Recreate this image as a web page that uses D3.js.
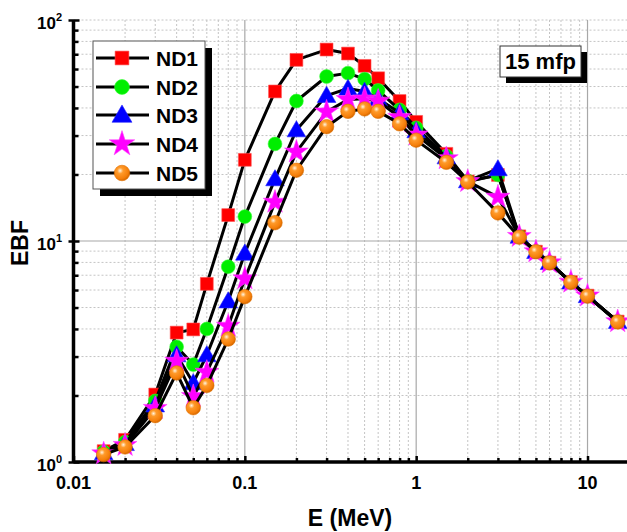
<!DOCTYPE html>
<html>
<head>
<meta charset="utf-8">
<script src="https://cdn.jsdelivr.net/npm/d3@7"></script>
<style>
  body { margin: 0; background: #fff; }
  text { font-family: "Liberation Sans", Arial, sans-serif; font-weight: bold; }
</style>
</head>
<body>
<script>
// energies (MeV)
var energy = [0.015, 0.02, 0.03, 0.04, 0.05, 0.06, 0.08, 0.1, 0.15, 0.2, 0.3, 0.4, 0.5, 0.6, 0.8, 1, 1.5, 2, 3, 4, 5, 6, 8, 10, 15];

var nd1 = [1.12, 1.26, 2.02, 3.85, 3.98, 6.4, 13.1, 23.3, 47.5, 66, 73.5, 70.5, 62, 54.5, 43, 34.6, 24.8, 18.6, 19.9, 10.5, 8.95, 7.98, 6.52, 5.66, 4.32];
var nd2 = [1.11, 1.23, 1.89, 3.32, 2.76, 4.0, 7.65, 12.9, 27.5, 43, 55.5, 57.5, 54, 48, 39.2, 32.5, 24.2, 18.7, 19.9, 10.5, 8.95, 7.98, 6.52, 5.65, 4.32];
var nd3 = [1.1, 1.21, 1.81, 3.05, 2.28, 3.05, 5.35, 8.8, 19.1, 31.8, 45.5, 49, 47.5, 44, 38, 31.5, 24, 18.7, 21.2, 10.5, 8.95, 7.98, 6.52, 5.65, 4.32];
var nd4 = [1.09, 1.19, 1.75, 2.86, 1.98, 2.55, 4.12, 6.75, 15, 25.3, 38.4, 43.7, 44, 43, 36.3, 30.2, 23.6, 18.6, 15.8, 10.5, 8.95, 7.98, 6.52, 5.65, 4.32];
var nd5 = [1.08, 1.17, 1.62, 2.53, 1.76, 2.22, 3.6, 5.6, 12.1, 20.9, 32.9, 38.6, 39.6, 38.6, 33.9, 28.6, 22.7, 18.5, 13.4, 10.4, 8.93, 7.96, 6.5, 5.63, 4.3];

var seriesNames = ["ND1", "ND2", "ND3", "ND4", "ND5"];
var seriesValues = [nd1, nd2, nd3, nd4, nd5];

var xTickValues = [0.01, 0.1, 1, 10];
var xTickLabels = ["0.01", "0.1", "1", "10"];
var yTickValues = [1, 10, 100];
var yTickExps = ["0", "1", "2"];

var width = 627, height = 532;

var svg = d3.select("body").append("svg")
  .attr("width", width)
  .attr("height", height);

var defs = svg.append("defs");
var grad = defs.append("radialGradient")
  .attr("id", "orangeBall")
  .attr("cx", "38%").attr("cy", "35%").attr("r", "65%");
grad.append("stop").attr("offset", "0%").attr("stop-color", "#fff4e0");
grad.append("stop").attr("offset", "30%").attr("stop-color", "#ff9a2a");
grad.append("stop").attr("offset", "80%").attr("stop-color", "#f57f0a");
grad.append("stop").attr("offset", "100%").attr("stop-color", "#d86a00");

var x = d3.scaleLog().domain([0.01, 17]).range([73.5, 627]);
var y = d3.scaleLog().domain([1, 100]).range([462, 20]);

// grid
var minorX = [];
[0.01, 0.1, 1, 10].forEach(function(d) {
  for (var k = 2; k <= 9; k++) { if (d * k <= 17) minorX.push(d * k); }
});
var minorY = [];
[1, 10].forEach(function(d) {
  for (var k = 2; k <= 9; k++) minorY.push(d * k);
});

var grid = svg.append("g");
grid.selectAll(".mx").data(minorX).enter().append("line")
  .attr("x1", function(d) { return x(d); }).attr("x2", function(d) { return x(d); })
  .attr("y1", y(100)).attr("y2", y(1))
  .attr("stroke", "#c4c4c4").attr("stroke-dasharray", "2,2").attr("stroke-width", 1);
grid.selectAll(".my").data(minorY).enter().append("line")
  .attr("x1", x(0.01)).attr("x2", width)
  .attr("y1", function(d) { return y(d); }).attr("y2", function(d) { return y(d); })
  .attr("stroke", "#c4c4c4").attr("stroke-dasharray", "2,2").attr("stroke-width", 1);
grid.append("line")
  .attr("x1", x(0.01)).attr("x2", width).attr("y1", y(100)).attr("y2", y(100))
  .attr("stroke", "#c4c4c4").attr("stroke-dasharray", "2,2");
grid.selectAll(".Mx").data([0.1, 1, 10]).enter().append("line")
  .attr("x1", function(d) { return x(d); }).attr("x2", function(d) { return x(d); })
  .attr("y1", y(100)).attr("y2", y(1))
  .attr("stroke", "#a8a8a8").attr("stroke-width", 1.2);
grid.append("line")
  .attr("x1", x(0.01)).attr("x2", width).attr("y1", y(10)).attr("y2", y(10))
  .attr("stroke", "#a8a8a8").attr("stroke-width", 1.2);

// axes
var xAxis = d3.axisBottom(x)
  .tickValues(minorX.concat(xTickValues))
  .tickSize(-4).tickFormat("");
var gx = svg.append("g").attr("transform", "translate(0," + y(1) + ")").call(xAxis);
gx.select(".domain").attr("stroke-width", 3.5).attr("d", "M" + x(0.01) + ",0H" + width);
gx.selectAll(".tick line").attr("stroke-width", 2.5)
  .attr("y2", function(d) { return xTickValues.indexOf(d) >= 0 ? -6 : -4; });

var yAxis = d3.axisLeft(y)
  .tickValues(minorY.concat(yTickValues))
  .tickSize(-5).tickFormat("");
var gy = svg.append("g").attr("transform", "translate(" + x(0.01) + ",0)").call(yAxis);
gy.select(".domain").attr("stroke-width", 3.5).attr("d", "M0," + y(100) + "V" + y(1));
gy.selectAll(".tick line").attr("stroke-width", 2.5)
  .attr("x1", function(d) { return yTickValues.indexOf(d) >= 0 ? -5 : 0; })
  .attr("x2", function(d) { return yTickValues.indexOf(d) >= 0 ? 6 : 5; });

// tick labels
svg.selectAll(".xl").data(xTickValues).enter().append("text")
  .attr("x", function(d) { return x(d); })
  .attr("y", 489)
  .attr("text-anchor", "middle")
  .attr("font-size", 18)
  .text(function(d, i) { return xTickLabels[i]; });

var yl = svg.selectAll(".yl").data(yTickValues).enter().append("text")
  .attr("x", 62)
  .attr("y", function(d) { return y(d) + 9; })
  .attr("text-anchor", "end")
  .attr("font-size", 17);
yl.append("tspan").text("10");
yl.append("tspan").attr("dy", -8).attr("font-size", 11).text(function(d, i) { return yTickExps[i]; });

// axis titles
svg.append("text")
  .attr("transform", "translate(28,243) rotate(-90)")
  .attr("text-anchor", "middle")
  .attr("font-size", 23)
  .text("EBF");
svg.append("text")
  .attr("x", 350).attr("y", 526)
  .attr("text-anchor", "middle")
  .attr("font-size", 23)
  .text("E (MeV)");

// markers
var symbols = [d3.symbolSquare, d3.symbolCircle, d3.symbolTriangle, d3.symbolStar, d3.symbolCircle];
var symbolSizes = [165, 150, 150, 175, 165];
var fills = ["#ff0000", "#00ee00", "#0000ff", "#ff00ff", "url(#orangeBall)"];
var strokes = ["#ff5050", "#33ff33", "#2020ff", "#ff40ff", "#e07000"];

var line = d3.line()
  .x(function(d) { return x(d[0]); })
  .y(function(d) { return y(d[1]); });

seriesValues.forEach(function(vals, si) {
  var pts = energy.map(function(e, i) { return [e, vals[i]]; });
  var g = svg.append("g");
  g.append("path").datum(pts)
    .attr("d", line)
    .attr("fill", "none")
    .attr("stroke", "#000")
    .attr("stroke-width", 3)
    .attr("stroke-linejoin", "round");
  g.selectAll("path.m").data(pts).enter().append("path")
    .attr("class", "m")
    .attr("transform", function(d) {
      var dy = si === 2 ? 1.5 : 0;
      return "translate(" + x(d[0]) + "," + (y(d[1]) + dy) + ")";
    })
    .attr("d", d3.symbol().type(symbols[si]).size(symbolSizes[si]))
    .attr("fill", fills[si])
    .attr("stroke", strokes[si])
    .attr("stroke-width", 0.6);
});

// legend
var leg = svg.append("g");
leg.append("rect").attr("x", 100).attr("y", 48).attr("width", 112).attr("height", 148).attr("fill", "#000");
leg.append("rect").attr("x", 93).attr("y", 41).attr("width", 112).attr("height", 148)
  .attr("fill", "#fff").attr("stroke", "#555").attr("stroke-width", 1);
var rowY = [58, 87, 115, 144, 173];
seriesNames.forEach(function(name, si) {
  var ry = rowY[si];
  leg.append("line").attr("x1", 96).attr("x2", 149).attr("y1", ry).attr("y2", ry)
    .attr("stroke", "#000").attr("stroke-width", 3);
  leg.append("path")
    .attr("transform", "translate(122," + (ry + (si === 2 ? 1.5 : 0)) + ")")
    .attr("d", d3.symbol().type(symbols[si]).size(symbolSizes[si] * 1.15))
    .attr("fill", fills[si]).attr("stroke", strokes[si]).attr("stroke-width", 0.6);
  leg.append("text").attr("x", 156).attr("y", ry + 8).attr("font-size", 21).text(name);
});

// annotation
var ann = svg.append("g");
ann.append("rect").attr("x", 506).attr("y", 52).attr("width", 81).attr("height", 31).attr("fill", "#000");
ann.append("rect").attr("x", 500).attr("y", 46).attr("width", 81).attr("height", 31)
  .attr("fill", "#fff").attr("stroke", "#333").attr("stroke-width", 1);
ann.append("text").attr("x", 540.5).attr("y", 69).attr("text-anchor", "middle")
  .attr("font-size", 22).text("15 mfp");
</script>
</body>
</html>
